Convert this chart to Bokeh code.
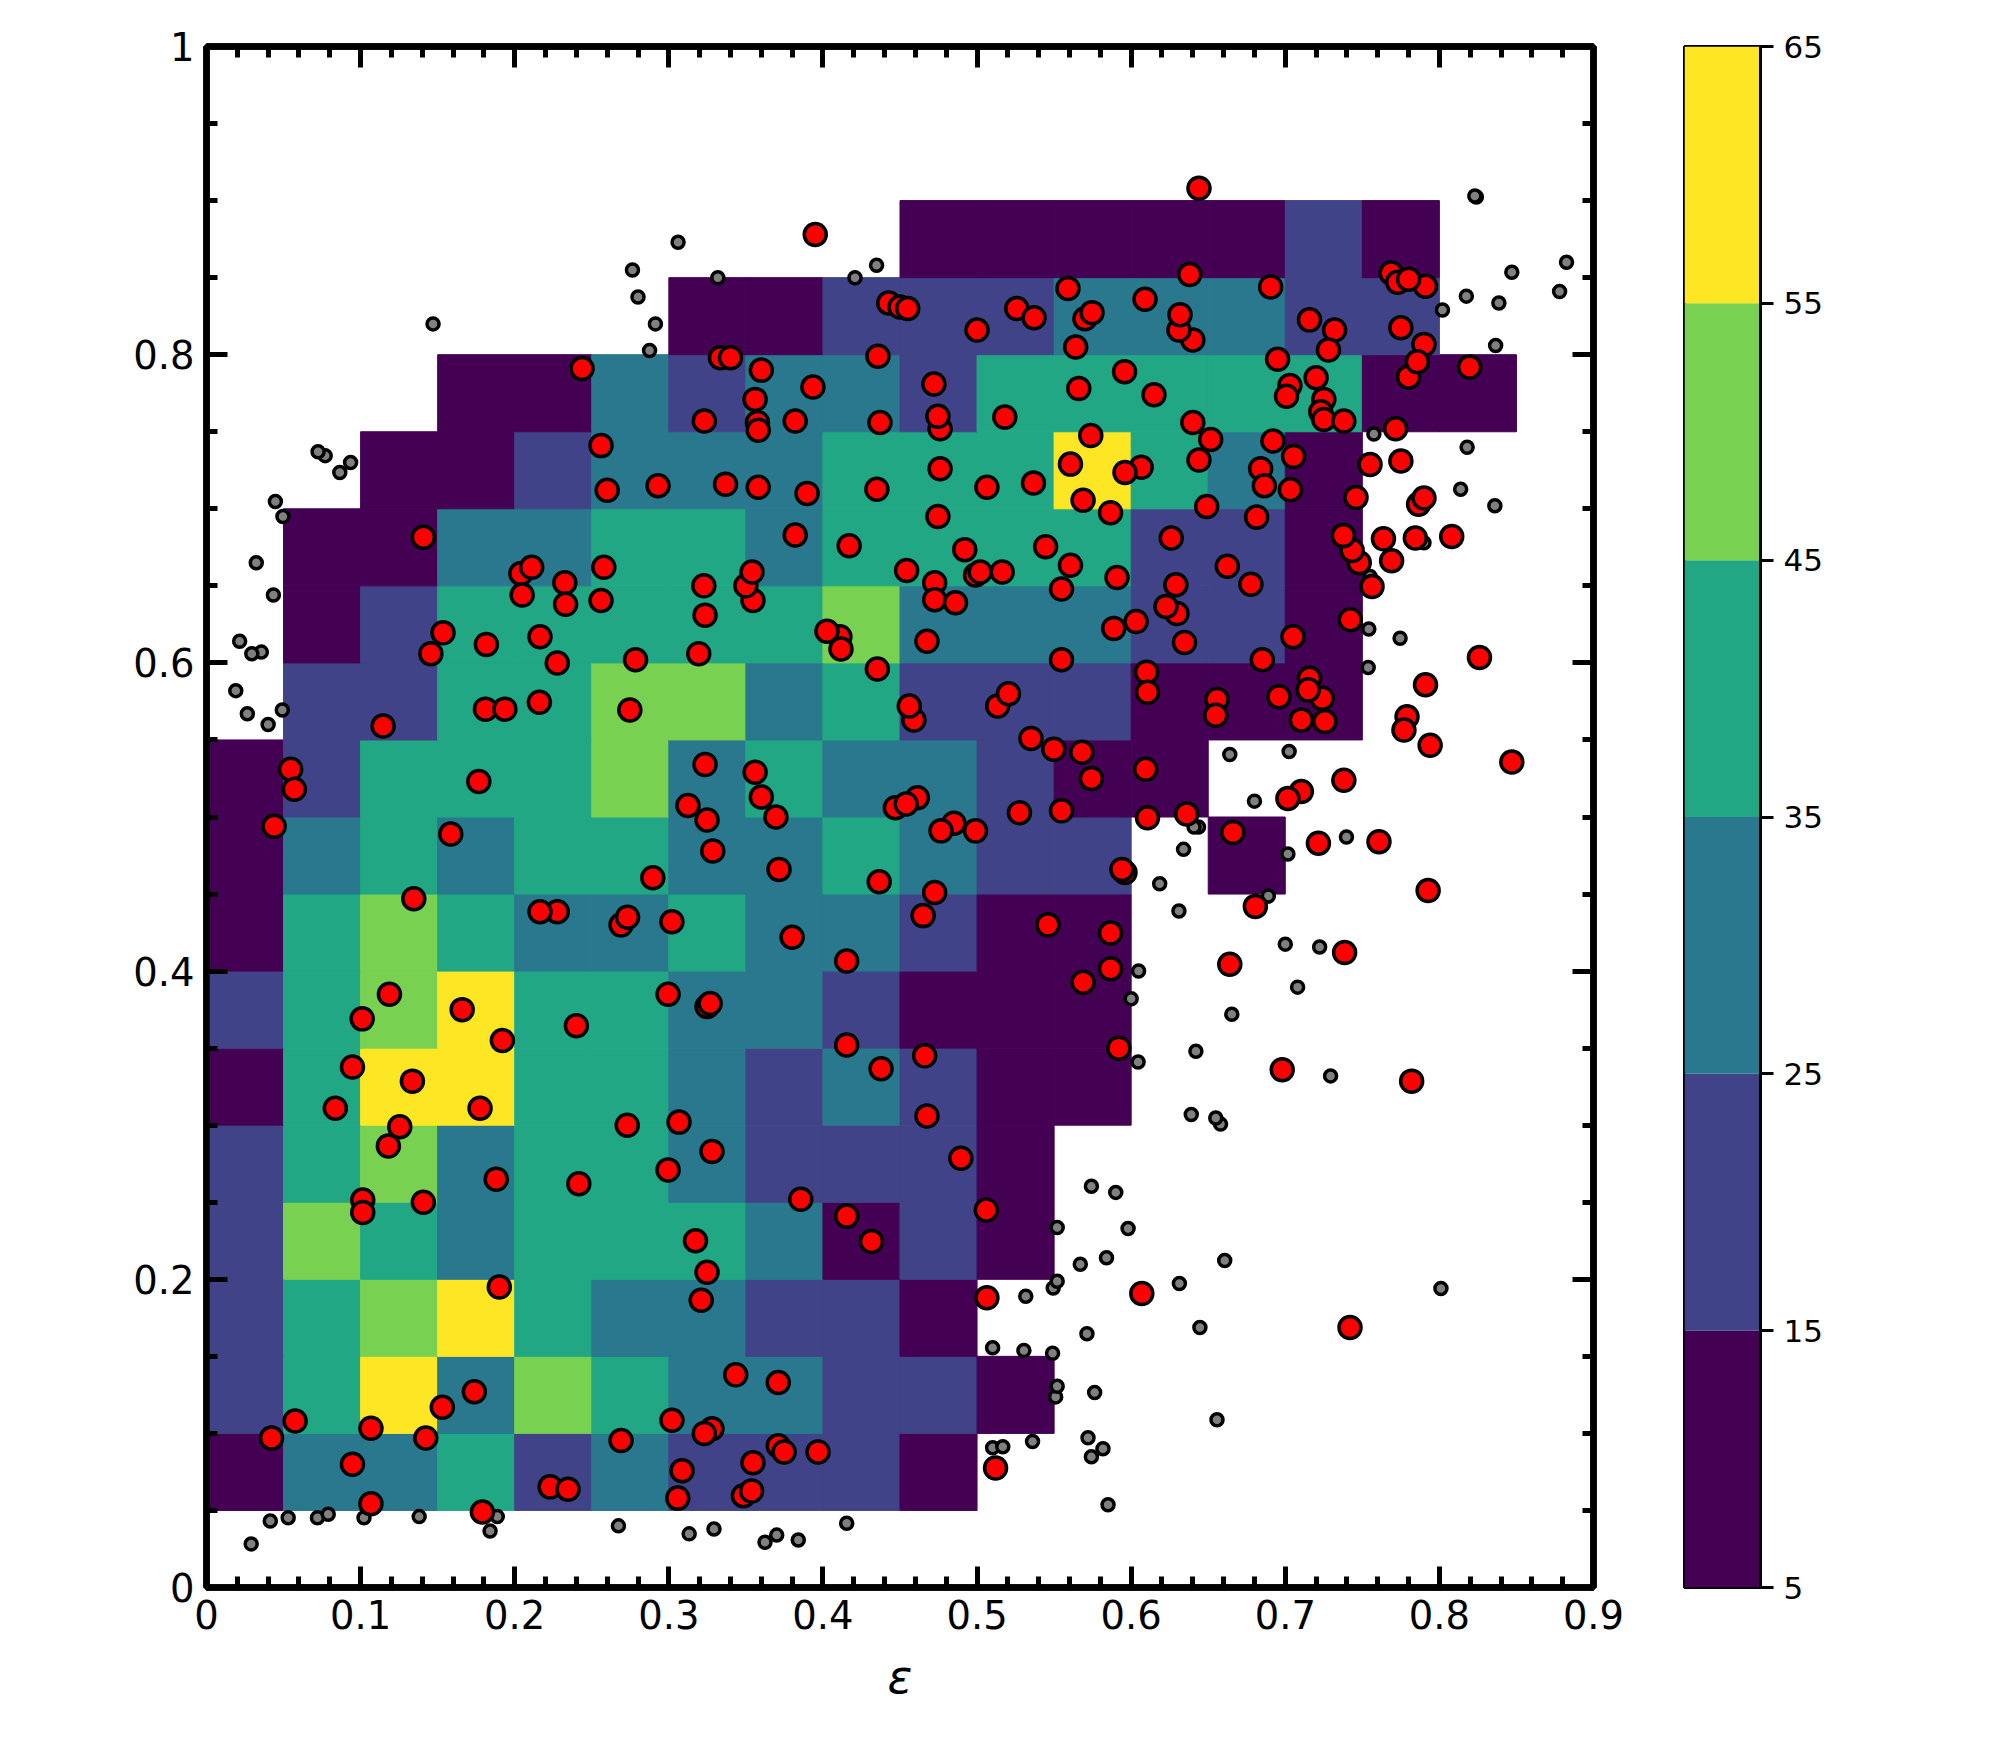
from bokeh.core.properties import value
from bokeh.embed import file_html
from bokeh.layouts import row
from bokeh.models import CustomJSTickFormatter, FixedTicker, Label, LinearAxis, LinearColorMapper, Range1d
from bokeh.palettes import Viridis6
from bokeh.plotting import figure
from bokeh.resources import INLINE

_ = None
bin_size = 0.05
levels = [5, 15, 25, 35, 45, 55, 65]

# counts per cell, bottom row first (eps bins across, lambda bins up)
counts = [
	[_, _, _, _, _, _, _, _, _, _, _, _, _, _, _, _, _, _],
	[10, 30, 30, 40, 20, 30, 20, 20, 20, 10, _, _, _, _, _, _, _, _],
	[20, 40, 60, 30, 50, 40, 30, 30, 20, 20, 10, _, _, _, _, _, _, _],
	[20, 40, 50, 60, 40, 30, 30, 20, 20, 10, _, _, _, _, _, _, _, _],
	[20, 50, 40, 30, 40, 40, 40, 30, 10, 20, 10, _, _, _, _, _, _, _],
	[20, 40, 50, 30, 40, 40, 30, 20, 20, 20, 10, _, _, _, _, _, _, _],
	[10, 40, 60, 60, 40, 40, 30, 20, 30, 20, 10, 10, _, _, _, _, _, _],
	[20, 40, 50, 60, 40, 40, 30, 30, 20, 10, 10, 10, _, _, _, _, _, _],
	[10, 40, 50, 40, 30, 30, 40, 30, 30, 20, 10, 10, _, _, _, _, _, _],
	[10, 30, 40, 30, 40, 40, 30, 30, 40, 30, 20, 20, _, 10, _, _, _, _],
	[10, 20, 40, 40, 40, 50, 30, 40, 30, 30, 20, 10, 10, _, _, _, _, _],
	[_, 20, 20, 40, 40, 50, 50, 30, 40, 20, 20, 20, 10, 10, 10, _, _, _],
	[_, 10, 20, 40, 40, 40, 40, 40, 50, 30, 30, 30, 20, 20, 10, _, _, _],
	[_, 10, 10, 30, 30, 40, 40, 30, 40, 40, 40, 40, 20, 20, 10, _, _, _],
	[_, _, 10, 10, 20, 30, 30, 30, 40, 40, 40, 60, 40, 30, 10, _, _, _],
	[_, _, _, 10, 10, 30, 20, 30, 30, 20, 40, 40, 40, 40, 40, 10, 10, _],
	[_, _, _, _, _, _, 10, 10, 20, 20, 20, 30, 30, 30, 20, 20, _, _],
	[_, _, _, _, _, _, _, _, _, 10, 10, 10, 10, 10, 20, 10, _, _],
]

red_points = [
	(.395, .878), (.4427, .8335), (.450, .831), (.455, .830), (.500, .816), (.3335, .798), (.340, .798),
	(.4357, .799), (.360, .790), (.2437, .791), (.3935, .779), (.472, .781), (.356, .771), (.323, .757),
	(.3575, .756), (.358, .751), (.382, .757), (.437, .756), (.476, .752), (.4746, .760), (.256, .741),
	(.476, .726), (.260, .712), (.293, .715), (.3368, .716), (.358, .714), (.3897, .710), (.435, .7127),
	(.5064, .714), (.4746, .695), (.382, .683), (.1407, .6815), (.417, .676), (.492, .6735), (.4543, .660),
	(.499, .657), (.502, .659), (.204, .658), (.211, .662), (.2578, .662), (.2325, .652), (.3227, .650),
	(.3546, .6405), (.350, .650), (.354, .659), (.4725, .652), (.4725, .641), (.486, .639), (.2048, .644),
	(.233, .638), (.256, .6405), (.3235, .631), (.1535, .6195), (.1456, .606), (.1816, .612), (.2164, .617),
	(.2276, .600), (.2784, .602), (.3194, .606), (.411, .617), (.4026, .6206), (.4117, .609), (.4675, .614),
	(.4353, .596), (.459, .563), (.456, .572), (.1146, .559), (.181, .570), (.1936, .570), (.216, .5745),
	(.2747, .5695), (.3235, .534), (.356, .529), (.0546, .531), (.057, .518), (.1767, .523), (.360, .513),
	(.4613, .5125), (.447, .506), (.454, .5085), (.3124, .5075), (.3248, .498), (.3695, .500), (.485, .496),
	(.4766, .491), (.499, .491), (.0439, .494), (.1585, .489), (.3285, .478), (.3715, .466), (.2896, .4606),
	(.4365, .458), (.4725, .451), (.1345, .447), (.2276, .4385), (.2164, .4385), (.269, .430), (.2732, .435),
	(.302, .432), (.465, .436), (.380, .422), (.4154, .4066), (.1187, .385), (.101, .369), (.1659, .375),
	(.192, .355), (.240, .3645), (.2995, .385), (.3248, .377), (.3268, .379), (.4154, .352), (.466, .345),
	(.4377, .3366), (.0947, .3377), (.1336, .3286), (.1775, .311), (.0836, .311), (.1254, .299), (.118, .2865),
	(.273, .300), (.3066, .302), (.4675, .306), (.328, .283), (.4895, .2786), (.188, .265), (.2995, .271),
	(.2416, .262), (.1014, .2514), (.1014, .2434), (.1407, .250), (.3856, .252), (.506, .245), (.4154, .241),
	(.4315, .2245), (.3173, .225), (.3248, .2046), (.190, .195), (.321, .1864), (.5064, .188), (.3434, .138),
	(.371, .133), (.1738, .127), (.153, .117), (.0575, .108), (.1067, .1034), (.302, .1085), (.328, .103),
	(.323, .100), (.0422, .097), (.1423, .097), (.269, .0954), (.371, .092), (.3748, .088), (.3968, .088),
	(.0947, .080), (.3546, .081), (.3086, .0758), (.512, .0776), (.223, .0653), (.2346, .0638), (.3484, .0595),
	(.3537, .0627), (.3058, .058), (.1067, .0544), (.179, .049),
	(.644, .908), (.638, .852), (.559, .843), (.6905, .844), (.609, .836), (.5258, .830), (.537, .824),
	(.570, .8234), (.5746, .8273), (.640, .8096), (.631, .816), (.6317, .826), (.7157, .8226), (.732, .816),
	(.728, .803), (.564, .805), (.775, .8175), (.7687, .853), (.773, .847), (.791, .8444), (.780, .849),
	(.790, .8067), (.780, .7856), (.7857, .7954), (.8196, .792), (.695, .797), (.5957, .789), (.566, .778),
	(.6148, .774), (.72, .785), (.703, .780), (.7008, .773), (.725, .771), (.723, .763), (.725, .758),
	(.738, .757), (.518, .7595), (.640, .756), (.6516, .745), (.7716, .752), (.5738, .7475), (.5606, .729),
	(.6065, .727), (.596, .7236), (.692, .744), (.7054, .734), (.644, .7316), (.755, .7287), (.775, .731),
	(.684, .726), (.6864, .715), (.7033, .7124), (.5366, .7167), (.5688, .7055), (.5866, .6975), (.649, .7015),
	(.7459, .7073), (.6814, .6946), (.7865, .703), (.790, .707), (.748, .665), (.7434, .673), (.7377, .6826),
	(.626, .681), (.5445, .6754), (.5163, .659), (.5606, .6634), (.7637, .6805), (.7844, .681), (.808, .682),
	(.769, .6663), (.6624, .6627), (.5908, .6554), (.629, .6507), (.6777, .651), (.5548, .648), (.7563, .6496),
	(.6297, .632), (.6226, .6366), (.7422, .628), (.6032, .6268), (.5887, .6224), (.6346, .6133), (.7050, .617),
	(.5548, .602), (.6851, .602), (.826, .6035), (.61, .594), (.6106, .581), (.791, .5858), (.7157, .590),
	(.724, .577), (.7149, .5825), (.6959, .578), (.6557, .5763), (.6549, .566), (.7104, .563), (.7257, .562),
	(.779, .565), (.777, .5564), (.794, .5465), (.5134, .572), (.5204, .58), (.535, .551), (.5498, .544),
	(.568, .542), (.5742, .525), (.6094, .531), (.847, .5357), (.738, .5238), (.7104, .5165), (.7017, .512),
	(.5275, .5027), (.5548, .504), (.6106, .4995), (.636, .502), (.666, .490), (.7215, .483), (.7608, .484),
	(.596, .464), (.594, .466), (.7927, .4523), (.6806, .442), (.546, .430), (.5866, .4247), (.7385, .412),
	(.664, .4044), (.5866, .4015), (.5688, .3928), (.592, .350), (.698, .336), (.782, .3286), (.6069, .1908),
	(.742, .1687),
]

gray_points = [
	(.306, .873), (.2764, .855), (.280, .8375), (.2913, .820), (.2875, .8027), (.3318, .850), (.4208, .850),
	(.4348, .858), (.147, .820), (.077, .7345), (.0724, .737), (.0865, .7236), (.0935, .730), (.0447, .7047),
	(.0496, .695), (.0323, .665), (.0434, .644), (.0215, .614), (.0356, .607), (.0294, .606), (.019, .582),
	(.0265, .567), (.040, .560), (.0492, .5695), (.824, .9024), (.823, .903), (.847, .8535), (.8825, .860),
	(.878, .841), (.8175, .838), (.8386, .8335), (.802, .829), (.8365, .806), (.7575, .7486), (.818, .740),
	(.8138, .7127), (.836, .702), (.790, .678), (.755, .656), (.7542, .622), (.7745, .616), (.7538, .597),
	(.664, .5405), (.7025, .5425), (.680, .5103), (.7397, .487), (.6437, .4935), (.6408, .4935), (.634, .479),
	(.7017, .476), (.6185, .4567), (.631, .439), (.689, .4487), (.7, .4175), (.7223, .4157), (.6048, .400),
	(.708, .3896), (.6, .382), (.6653, .372), (.642, .348), (.6045, .341), (.7294, .332), (.639, .307),
	(.658, .3007), (.6549, .3047), (.5742, .2604), (.59, .2564), (.552, .2336), (.598, .2329), (.584, .214),
	(.567, .2097), (.6607, .2122), (.5494, .1944), (.552, .1988), (.6313, .1973), (.801, .194), (.5316, .189),
	(.6446, .1687), (.5713, .1647), (.5101, .1556), (.5304, .1538), (.549, .152), (.551, .1237), (.552, .1306),
	(.5763, .1266), (.6557, .1088), (.572, .0972), (.536, .0947), (.5817, .090), (.5101, .0907), (.5167, .0914),
	(.5742, .0849), (.585, .0537), (.029, .0283), (.0414, .0432), (.053, .0453), (.072, .0453), (.079, .0475),
	(.1022, .0453), (.138, .046), (.1887, .046), (.184, .0366), (.2673, .040), (.3132, .0348), (.3293, .038),
	(.3624, .0294), (.370, .034), (.384, .0308), (.4154, .0417),
]

x_ticks = [0.0, 0.1, 0.2, 0.3, 0.4, 0.5, 0.6, 0.7, 0.8, 0.9]
y_ticks = [0.0, 0.2, 0.4, 0.6, 0.8, 1.0]
x_minor = [i / 100 for i in range(2, 90, 2) if i % 10]
y_minor = [i / 100 for i in range(5, 100, 5) if i % 20]

FONT = "DejaVu Sans"
blank = CustomJSTickFormatter(code="return ''")

p = figure(frame_width=1387, frame_height=1541, x_range=Range1d(0, 0.9), y_range=Range1d(0, 1),
	output_backend="svg", toolbar_location=None, min_border_left=206, min_border_top=46,
	min_border_right=40, min_border_bottom=120, x_axis_location=None, y_axis_location=None)
p.grid.visible = False
p.outline_line_color = "black"
p.outline_line_width = 6.5

mapper = LinearColorMapper(palette=Viridis6, low=levels[0], high=levels[-1])
left, right, bottom, top, cell = [], [], [], [], []
for j, line in enumerate(counts):
	for i, c in enumerate(line):
		if c is None:
			continue
		left.append(i * bin_size)
		right.append((i + 1) * bin_size)
		bottom.append(j * bin_size)
		top.append((j + 1) * bin_size)
		cell.append(c)
fill = {"field": "c", "transform": mapper}
p.quad(left="l", right="r", bottom="b", top="t", fill_color=fill, line_color=fill, line_width=1,
	source=dict(l=left, r=right, b=bottom, t=top, c=cell))

gray_eps, gray_lam = zip(*gray_points)
red_eps, red_lam = zip(*red_points)
p.scatter(gray_eps, gray_lam, size=12, fill_color="gray", line_color="black", line_width=3.5)
p.scatter(red_eps, red_lam, size=22, fill_color="red", line_color="black", line_width=3.5)

def make_axis(ticks, minor, labelled):
	axis = LinearAxis(ticker=FixedTicker(ticks=ticks, minor_ticks=minor))
	axis.axis_line_color = "black"
	axis.axis_line_width = 6.5
	axis.major_tick_in = 21
	axis.major_tick_out = 0
	axis.major_tick_line_width = 5
	axis.minor_tick_in = 11
	axis.minor_tick_out = 0
	axis.minor_tick_line_width = 5
	axis.major_label_text_font = FONT
	axis.major_label_text_font_size = "38.5px"
	axis.major_label_text_color = "black"
	axis.major_label_standoff = 12
	if not labelled:
		axis.formatter = blank
		axis.major_label_standoff = 0
		axis.major_label_text_font_size = "1px"
	return axis

xax = make_axis(x_ticks, x_minor, True)
xax.axis_label = "ε"
xax.axis_label_text_font = FONT
xax.axis_label_text_font_style = "italic"
xax.axis_label_text_font_size = "46px"
xax.axis_label_text_color = "black"
xax.axis_label_standoff = 18
p.add_layout(xax, "below")
p.add_layout(make_axis(y_ticks, y_minor, True), "left")
p.add_layout(make_axis(x_ticks, x_minor, False), "above")
p.add_layout(make_axis(y_ticks, y_minor, False), "right")

p.add_layout(Label(x=-0.072, y=0.46, text="λ", angle=90, angle_units="deg", text_font=FONT,
	text_font_style="italic", text_font_size="46px", text_color="black", text_align="left",
	text_baseline="bottom"))
p.add_layout(Label(x=-0.066, y=0.485, text="R", angle=90, angle_units="deg", text_font=FONT,
	text_font_style="italic", text_font_size="32px", text_color="black", text_align="left",
	text_baseline="bottom"))

cb = figure(frame_width=76, frame_height=1541, x_range=Range1d(0, 1), y_range=Range1d(levels[0], levels[-1]),
	output_backend="svg", toolbar_location=None, min_border_left=51, min_border_top=46, min_border_right=130,
	min_border_bottom=120, x_axis_location=None, y_axis_location=None)
cb.grid.visible = False
cb.outline_line_color = "black"
cb.outline_line_width = 3
cb.quad(left=0, right=1, bottom=levels[:-1], top=levels[1:], fill_color=Viridis6, line_color=None)
cax = LinearAxis(ticker=FixedTicker(ticks=levels, minor_ticks=[]))
cax.axis_line_color = "black"
cax.axis_line_width = 3
cax.major_tick_in = 0
cax.major_tick_out = 13
cax.major_tick_line_width = 3
cax.major_label_text_font = FONT
cax.major_label_text_font_size = "31px"
cax.major_label_text_color = "black"
cax.major_label_standoff = 10
cb.add_layout(cax, "right")

open("out.html", "w").write(file_html(row(p, cb), INLINE))
